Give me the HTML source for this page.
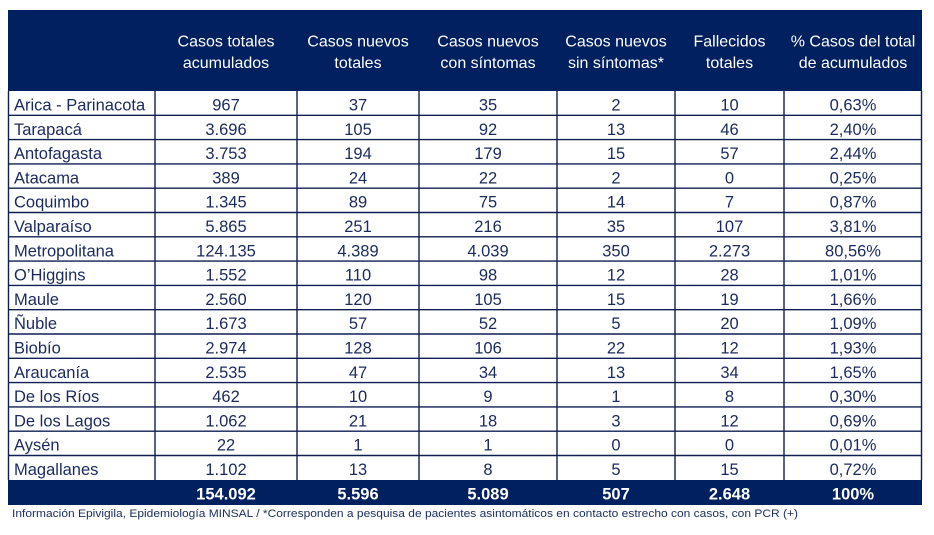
<!DOCTYPE html>
<html><head><meta charset="utf-8">
<style>
html,body{margin:0;padding:0;background:#fff;}
svg{display:block;}
text{font-family:"Liberation Sans",sans-serif;}
</style></head>
<body>
<svg width="934" height="535" viewBox="0 0 934 535" xmlns="http://www.w3.org/2000/svg">
<rect x="0" y="0" width="934" height="535" fill="#fff"/>
<!-- header -->
<rect x="8" y="10" width="914" height="81" fill="#002060"/>
<g fill="#fff" font-size="16" text-anchor="middle">
<text x="226" y="46.5">Casos totales</text><text x="226" y="68">acumulados</text>
<text x="358" y="46.5">Casos nuevos</text><text x="358" y="68">totales</text>
<text x="488" y="46.5">Casos nuevos</text><text x="488" y="68">con síntomas</text>
<text x="616" y="46.5">Casos nuevos</text><text x="616" y="68">sin síntomas*</text>
<text x="729.5" y="46.5">Fallecidos</text><text x="729.5" y="68">totales</text>
<text x="853" y="46.5">% Casos del total</text><text x="853" y="68">de acumulados</text>
</g>
<!-- total row -->
<rect x="8" y="480" width="914" height="25" fill="#002060"/>
<g fill="#fff" font-size="16.5" font-weight="bold" text-anchor="middle">
<text x="226" y="499.5">154.092</text>
<text x="358" y="499.5">5.596</text>
<text x="488" y="499.5">5.089</text>
<text x="616" y="499.5">507</text>
<text x="729.5" y="499.5">2.648</text>
<text x="853" y="499.5">100%</text>
</g>
<!-- grid -->
<g stroke="#0f1f52" stroke-width="1.4" fill="none">
<line x1="8.5" y1="91" x2="8.5" y2="480"/>
<line x1="155" y1="91" x2="155" y2="480"/>
<line x1="297" y1="91" x2="297" y2="480"/>
<line x1="419" y1="91" x2="419" y2="480"/>
<line x1="557" y1="91" x2="557" y2="480"/>
<line x1="675" y1="91" x2="675" y2="480"/>
<line x1="784" y1="91" x2="784" y2="480"/>
<line x1="921.5" y1="91" x2="921.5" y2="480"/>
<line x1="8" y1="115.3" x2="922" y2="115.3"/>
<line x1="8" y1="139.6" x2="922" y2="139.6"/>
<line x1="8" y1="163.9" x2="922" y2="163.9"/>
<line x1="8" y1="188.2" x2="922" y2="188.2"/>
<line x1="8" y1="212.5" x2="922" y2="212.5"/>
<line x1="8" y1="236.8" x2="922" y2="236.8"/>
<line x1="8" y1="261.1" x2="922" y2="261.1"/>
<line x1="8" y1="285.4" x2="922" y2="285.4"/>
<line x1="8" y1="309.7" x2="922" y2="309.7"/>
<line x1="8" y1="334" x2="922" y2="334"/>
<line x1="8" y1="358.3" x2="922" y2="358.3"/>
<line x1="8" y1="382.6" x2="922" y2="382.6"/>
<line x1="8" y1="406.9" x2="922" y2="406.9"/>
<line x1="8" y1="431.2" x2="922" y2="431.2"/>
<line x1="8" y1="455.5" x2="922" y2="455.5"/>
</g>
<!-- data -->
<g fill="#1b2a5e" font-size="16.5">
<g text-anchor="start">
<text x="14" y="110.5">Arica - Parinacota</text>
<text x="14" y="134.8">Tarapacá</text>
<text x="14" y="159.1">Antofagasta</text>
<text x="14" y="183.4">Atacama</text>
<text x="14" y="207.7">Coquimbo</text>
<text x="14" y="232">Valparaíso</text>
<text x="14" y="256.3">Metropolitana</text>
<text x="14" y="280.6">O’Higgins</text>
<text x="14" y="304.9">Maule</text>
<text x="14" y="329.2">Ñuble</text>
<text x="14" y="353.5">Biobío</text>
<text x="14" y="377.8">Araucanía</text>
<text x="14" y="402.1">De los Ríos</text>
<text x="14" y="426.4">De los Lagos</text>
<text x="14" y="450.7">Aysén</text>
<text x="14" y="475">Magallanes</text>
</g>
<g text-anchor="middle">
<text x="226" y="110.5">967</text><text x="358" y="110.5">37</text><text x="488" y="110.5">35</text><text x="616" y="110.5">2</text><text x="729.5" y="110.5">10</text><text x="853" y="110.5">0,63%</text>
<text x="226" y="134.8">3.696</text><text x="358" y="134.8">105</text><text x="488" y="134.8">92</text><text x="616" y="134.8">13</text><text x="729.5" y="134.8">46</text><text x="853" y="134.8">2,40%</text>
<text x="226" y="159.1">3.753</text><text x="358" y="159.1">194</text><text x="488" y="159.1">179</text><text x="616" y="159.1">15</text><text x="729.5" y="159.1">57</text><text x="853" y="159.1">2,44%</text>
<text x="226" y="183.4">389</text><text x="358" y="183.4">24</text><text x="488" y="183.4">22</text><text x="616" y="183.4">2</text><text x="729.5" y="183.4">0</text><text x="853" y="183.4">0,25%</text>
<text x="226" y="207.7">1.345</text><text x="358" y="207.7">89</text><text x="488" y="207.7">75</text><text x="616" y="207.7">14</text><text x="729.5" y="207.7">7</text><text x="853" y="207.7">0,87%</text>
<text x="226" y="232">5.865</text><text x="358" y="232">251</text><text x="488" y="232">216</text><text x="616" y="232">35</text><text x="729.5" y="232">107</text><text x="853" y="232">3,81%</text>
<text x="226" y="256.3">124.135</text><text x="358" y="256.3">4.389</text><text x="488" y="256.3">4.039</text><text x="616" y="256.3">350</text><text x="729.5" y="256.3">2.273</text><text x="853" y="256.3">80,56%</text>
<text x="226" y="280.6">1.552</text><text x="358" y="280.6">110</text><text x="488" y="280.6">98</text><text x="616" y="280.6">12</text><text x="729.5" y="280.6">28</text><text x="853" y="280.6">1,01%</text>
<text x="226" y="304.9">2.560</text><text x="358" y="304.9">120</text><text x="488" y="304.9">105</text><text x="616" y="304.9">15</text><text x="729.5" y="304.9">19</text><text x="853" y="304.9">1,66%</text>
<text x="226" y="329.2">1.673</text><text x="358" y="329.2">57</text><text x="488" y="329.2">52</text><text x="616" y="329.2">5</text><text x="729.5" y="329.2">20</text><text x="853" y="329.2">1,09%</text>
<text x="226" y="353.5">2.974</text><text x="358" y="353.5">128</text><text x="488" y="353.5">106</text><text x="616" y="353.5">22</text><text x="729.5" y="353.5">12</text><text x="853" y="353.5">1,93%</text>
<text x="226" y="377.8">2.535</text><text x="358" y="377.8">47</text><text x="488" y="377.8">34</text><text x="616" y="377.8">13</text><text x="729.5" y="377.8">34</text><text x="853" y="377.8">1,65%</text>
<text x="226" y="402.1">462</text><text x="358" y="402.1">10</text><text x="488" y="402.1">9</text><text x="616" y="402.1">1</text><text x="729.5" y="402.1">8</text><text x="853" y="402.1">0,30%</text>
<text x="226" y="426.4">1.062</text><text x="358" y="426.4">21</text><text x="488" y="426.4">18</text><text x="616" y="426.4">3</text><text x="729.5" y="426.4">12</text><text x="853" y="426.4">0,69%</text>
<text x="226" y="450.7">22</text><text x="358" y="450.7">1</text><text x="488" y="450.7">1</text><text x="616" y="450.7">0</text><text x="729.5" y="450.7">0</text><text x="853" y="450.7">0,01%</text>
<text x="226" y="475">1.102</text><text x="358" y="475">13</text><text x="488" y="475">8</text><text x="616" y="475">5</text><text x="729.5" y="475">15</text><text x="853" y="475">0,72%</text>
</g>
</g>
<!-- footer -->
<text x="12" y="517" font-size="11" fill="#1f3060" textLength="786" lengthAdjust="spacingAndGlyphs">Información Epivigila, Epidemiología MINSAL / *Corresponden a pesquisa de pacientes asintomáticos en contacto estrecho con casos, con PCR (+)</text>
</svg>
</body></html>
